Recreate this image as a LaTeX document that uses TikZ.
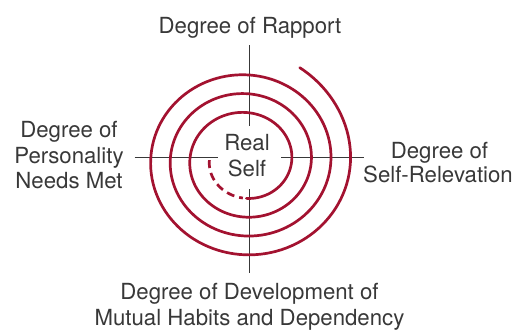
\documentclass[tikz,border=0pt]{standalone}
\usepackage{fontspec}
\setmainfont{TeX Gyre Heros}
\definecolor{spiralred}{RGB}{163,18,48}
\definecolor{inkgray}{RGB}{56,56,56}
\begin{document}
\begin{tikzpicture}[x=1pt,y=-1pt,
  axisline/.style={draw=inkgray,line width=1.3pt},
  spiralline/.style={draw=spiralred,line width=2.7pt,line cap=round},
  spiraldash/.style={draw=spiralred,line width=2.7pt,dash pattern=on 8pt off 5pt},
  label/.style={anchor=base,inner sep=0pt,text=inkgray,
    font=\fontsize{22.2}{25}\selectfont}]
\useasboundingbox (0,0) rectangle (516,330);

% axis ends
\coordinate (vtop) at (249.3,45);
\coordinate (vtopin) at (249.3,126);
\coordinate (vbotin) at (249.3,189);
\coordinate (vbot) at (249.3,273);
\coordinate (hleft) at (134.7,157.7);
\coordinate (hleftin) at (218,157.7);
\coordinate (hrightin) at (281,157.7);
\coordinate (hright) at (364,157.7);

\draw[axisline] (vtop) -- (vtopin);
\draw[axisline] (vbotin) -- (vbot);
\draw[axisline] (hleft) -- (hleftin);
\draw[axisline] (hrightin) -- (hright);

% spiral: dashed start, then solid turns outward
\draw[spiraldash] plot[domain=180:266,samples=40,variable=\t]
  ({245.7+(26.5+0.0544*\t)*cos(\t)},{160.1-(24.1+0.0523*\t)*sin(\t)});
\draw[spiralline] plot[domain=271:1500,samples=400,variable=\t]
  ({245.7+(26.5+0.0544*\t)*cos(\t)},
   {160.1-(24.1+0.0523*\t+0.07*max(0,\t-1440))*sin(\t)});

% labels
\node[label] (rapport) at (250,33.8) {Degree of Rapport};
\node[label] (pers1) at (69,137.8) {Degree of};
\node[label] (pers2) at (69,163.3) {Personality};
\node[label] (pers3) at (69,188.5) {Needs Met};
\node[label] (rel1) at (439.5,158.3) {Degree of};
\node[label] (rel2) at (438,182.7) {Self-Relevation};
\node[label] (dev1) at (249.5,299.3) {Degree of Development of};
\node[label] (dev2) at (249.5,325) {Mutual Habits and Dependency};
\node[label] (self1) at (247,150) {Real};
\node[label] (self2) at (247,176) {Self};
\end{tikzpicture}
\end{document}
